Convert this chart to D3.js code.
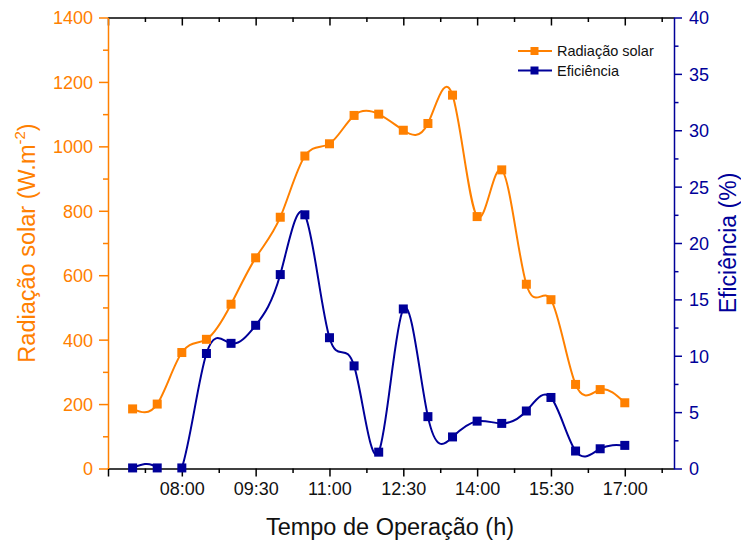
<!DOCTYPE html>
<html>
<head>
<meta charset="utf-8">
<script src="https://cdn.jsdelivr.net/npm/d3@7"></script>
<style>
  html, body { margin: 0; padding: 0; background: #fff; }
  svg { display: block; }
  text { font-family: "Liberation Sans", Arial, sans-serif; }
</style>
</head>
<body>
<svg id="chart" width="741" height="542"></svg>
<script>
// ---- data ----
const times = ["07:00","07:30","08:00","08:30","09:00","09:30","10:00","10:30","11:00","11:30",
               "12:00","12:30","13:00","13:30","14:00","14:30","15:00","15:30","16:00","16:30","17:00"];
const radiacao = [185, 200, 360, 401, 510, 654, 780, 970, 1008, 1096, 1100, 1050, 1071, 1159,
                  782, 927, 572, 524, 261, 245, 204];
const eficiencia = [0.05, 0.05, 0.05, 10.2, 11.1, 12.7, 17.2, 22.5, 11.6, 9.1, 1.45, 14.15, 4.6,
                    2.8, 4.2, 4.0, 5.1, 6.3, 1.55, 1.75, 2.05];
const xTickLabels = ["06:30","08:00","09:30","11:00","12:30","14:00","15:30","17:00"];
const xMinorLabels = ["07:15","08:45","10:15","11:45","13:15","14:45","16:15","17:45"];
const leftTicks = [0, 200, 400, 600, 800, 1000, 1200, 1400];
const rightTicks = [0, 5, 10, 15, 20, 25, 30, 35, 40];
const seriesNames = ["Radiação solar", "Eficiência"];

// ---- helpers ----
const toH = s => { const [h, m] = s.split(":").map(Number); return h + m / 60; };
const ORANGE = "#FF8000", NAVY = "#000099";

const svg = d3.select("#chart");
const L = 108, R = 674, T = 17.5, B = 468.5;

const x = d3.scaleLinear().domain([6.5, 18]).range([L, R]);
const yL = d3.scaleLinear().domain([0, 1400]).range([B, T]);
const yR = d3.scaleLinear().domain([0, 40]).range([B, T]);

const majorX = xTickLabels.map(toH);
const minorX = xMinorLabels.map(toH);
const minorL = d3.range(100, 1400, 200);
const minorR = d3.range(2.5, 40, 5);

svg.append("defs").append("clipPath").attr("id", "plotclip")
  .append("rect").attr("x", L - 6).attr("y", T).attr("width", R - L + 12).attr("height", B - T);

// bottom axis
const gB = svg.append("g").attr("transform", `translate(0,${B})`);
gB.call(d3.axisBottom(x).tickValues(majorX).tickSize(8).tickSizeOuter(0)
  .tickFormat((d, i) => i === 0 ? "" : xTickLabels[i]));
gB.append("g").call(d3.axisBottom(x).tickValues(minorX).tickSize(4.5).tickSizeOuter(0).tickFormat(""))
  .select(".domain").remove();
gB.selectAll("text").attr("font-size", 18).attr("fill", "#111").attr("dy", "0.71em").attr("y", 14);
gB.selectAll("line").attr("stroke", "#000").attr("stroke-width", 1.5);
gB.select(".domain").attr("stroke", "#000").attr("stroke-width", 1.5);

// top axis (ticks inward)
const gT = svg.append("g").attr("transform", `translate(0,${T})`);
gT.call(d3.axisBottom(x).tickValues(majorX).tickSize(8).tickSizeOuter(0).tickFormat(""));
gT.append("g").call(d3.axisBottom(x).tickValues(minorX).tickSize(4.5).tickSizeOuter(0).tickFormat(""))
  .select(".domain").remove();
gT.selectAll("line").attr("stroke", "#000").attr("stroke-width", 1.5);
gT.select(".domain").attr("stroke", "#000").attr("stroke-width", 1.5);

// left axis
const gL = svg.append("g").attr("transform", `translate(${L},0)`);
gL.call(d3.axisLeft(yL).tickValues(leftTicks).tickSize(9).tickSizeOuter(0).tickPadding(6)
  .tickFormat(d3.format("d")));
gL.append("g").call(d3.axisLeft(yL).tickValues(minorL).tickSize(5).tickSizeOuter(0).tickFormat(""))
  .select(".domain").remove();
gL.selectAll("text").attr("font-size", 18).attr("fill", ORANGE).attr("dy", "0.36em");
gL.selectAll("line").attr("stroke", ORANGE).attr("stroke-width", 1.5);
gL.select(".domain").attr("stroke", ORANGE).attr("stroke-width", 1.5);

// right axis
const gR = svg.append("g").attr("transform", `translate(${R},0)`);
gR.call(d3.axisRight(yR).tickValues(rightTicks).tickSize(8).tickSizeOuter(0).tickPadding(7)
  .tickFormat(d3.format("d")));
gR.append("g").call(d3.axisRight(yR).tickValues(minorR).tickSize(4.5).tickSizeOuter(0).tickFormat(""))
  .select(".domain").remove();
gR.selectAll("text").attr("font-size", 18).attr("fill", NAVY).attr("dy", "0.36em");
gR.selectAll("line").attr("stroke", NAVY).attr("stroke-width", 1.5);
gR.select(".domain").attr("stroke", NAVY).attr("stroke-width", 1.5);

// lines
const lineL = d3.line().x((d, i) => x(toH(times[i]))).y(d => yL(d)).curve(d3.curveNatural);
const lineR = d3.line().x((d, i) => x(toH(times[i]))).y(d => yR(d)).curve(d3.curveNatural);
const MS = 9;
const plot = svg.append("g").attr("clip-path", "url(#plotclip)");

plot.append("path").attr("d", lineL(radiacao)).attr("fill", "none")
  .attr("stroke", ORANGE).attr("stroke-width", 2);
svg.append("g").selectAll("rect").data(radiacao).join("rect")
  .attr("x", (d, i) => x(toH(times[i])) - MS / 2).attr("y", d => yL(d) - MS / 2)
  .attr("width", MS).attr("height", MS).attr("fill", ORANGE);

plot.append("path").attr("d", lineR(eficiencia)).attr("fill", "none")
  .attr("stroke", NAVY).attr("stroke-width", 2);
svg.append("g").selectAll("rect").data(eficiencia).join("rect")
  .attr("x", (d, i) => x(toH(times[i])) - MS / 2).attr("y", d => yR(d) - MS / 2)
  .attr("width", MS).attr("height", MS).attr("fill", NAVY);

// legend
const legColors = [ORANGE, NAVY];
const leg = svg.append("g");
seriesNames.forEach((name, i) => {
  const cy = 51 + i * 19.5;
  leg.append("line").attr("x1", 518).attr("x2", 552).attr("y1", cy).attr("y2", cy)
    .attr("stroke", legColors[i]).attr("stroke-width", 2);
  leg.append("rect").attr("x", 534.5 - 4).attr("y", cy - 4).attr("width", 8).attr("height", 8)
    .attr("fill", legColors[i]);
  leg.append("text").attr("x", 557).attr("y", cy + 5).attr("font-size", 14.5)
    .attr("fill", "#111").text(name);
});

// axis titles
svg.append("text").attr("x", (L + R) / 2 - 1).attr("y", 535).attr("text-anchor", "middle")
  .attr("font-size", 23.5).attr("fill", "#111").text("Tempo de Operação (h)");

const tl = svg.append("text").attr("transform", `translate(35,${(T + B) / 2}) rotate(-90)`)
  .attr("text-anchor", "middle").attr("font-size", 23.5).attr("fill", ORANGE);
tl.append("tspan").text("Radiação solar (W.m");
tl.append("tspan").attr("font-size", 15).attr("dy", -10).text("-2");
tl.append("tspan").attr("dy", 10).text(")");

svg.append("text").attr("transform", `translate(736,${(T + B) / 2}) rotate(-90)`)
  .attr("text-anchor", "middle").attr("font-size", 23).attr("fill", NAVY).text("Eficiência (%)");
</script>
</body>
</html>
